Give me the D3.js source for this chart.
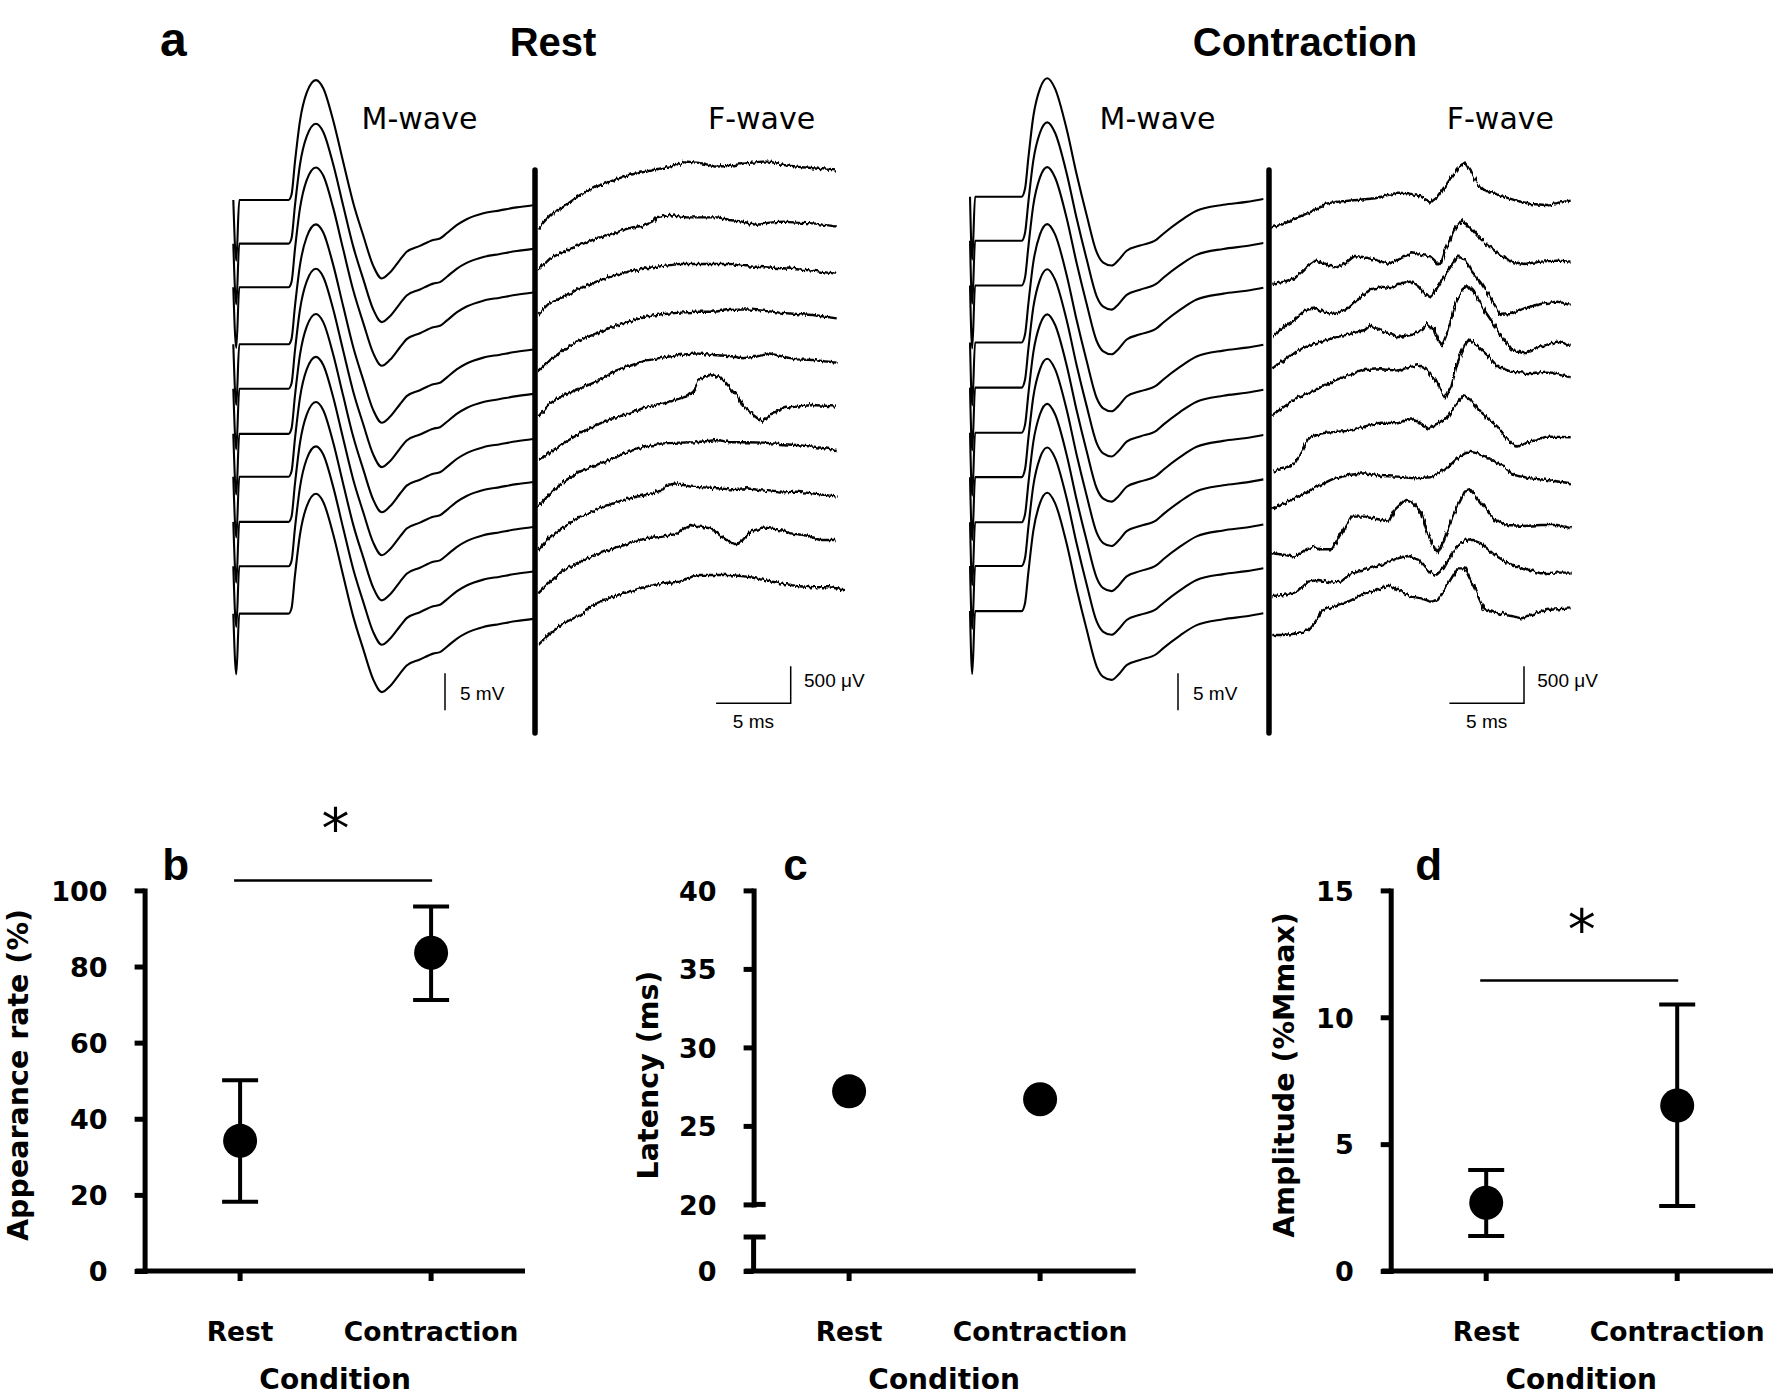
<!DOCTYPE html>
<html><head><meta charset="utf-8">
<script src="https://cdn.jsdelivr.net/npm/d3@7"></script>
<style>body{margin:0;background:#fff}</style>
</head><body>
<svg id="chart" width="1773" height="1399"></svg>
<script>
// ================= DATA =================
const conditions = ["Rest", "Contraction"];

// panel b : appearance rate (%)
const appearanceMean  = [34.2, 83.6];
const appearanceUpper = [50.1, 95.8];
const appearanceLower = [18.2, 71.2];
const appearanceTicks = [0, 20, 40, 60, 80, 100];

// panel c : latency (ms)
const latencyMean  = [27.2, 26.7];
const latencyTicks = [20, 25, 30, 35, 40];

// panel d : amplitude (%Mmax)
const amplitudeMean  = [2.69, 6.52];
const amplitudeUpper = [3.98, 10.5];
const amplitudeLower = [1.38, 2.56];
const amplitudeTicks = [0, 5, 10, 15];

// panel a : M-wave templates [ms, mV]
const mwaveRest = [[0,0],[0.2,-8.2],[0.4,0],[3.7,0],[3.9,0.7],[4.13,5.1],[4.47,10.7],[4.92,14.5],[5.54,16.2],[6.03,15.1],[6.7,10.7],[7.37,5.1],[8.04,-0.4],[8.71,-4.8],[9.38,-8.9],[9.95,-10.6],[10.5,-9.8],[11.17,-8.1],[11.62,-7.0],[12.51,-6.2],[13.4,-5.4],[13.85,-5.2],[14.3,-4.5],[14.97,-3.4],[15.64,-2.6],[16.76,-1.8],[17.87,-1.4],[18.99,-1.0],[20.1,-0.7]];
const mwaveContraction = [[0,0],[0.15,-8.5],[0.34,0],[3.46,0],[3.69,1.1],[3.91,5.2],[4.24,10.8],[4.69,14.6],[5.18,16.0],[5.7,14.6],[6.48,9.1],[7.15,3.0],[7.82,-2.5],[8.49,-7.5],[8.93,-8.9],[9.49,-9.3],[9.94,-8.6],[10.5,-7.3],[11.4,-6.6],[12.5,-5.8],[12.96,-5.0],[14.07,-3.3],[15.19,-1.9],[16.98,-1.1],[18.54,-0.7],[19.66,-0.3]];
// stacking offsets of the 10 sweeps (mV)
const mOffsetsRest = [0, -5.9, -11.8, -19.5, -25.5, -31.6, -37.4, -43.5, -49.5, -55.9];
const mOffsetsContraction = [0, -5.96, -12.0, -19.7, -25.8, -31.9, -37.9, -44.0, -49.9, -56.0];

// F-wave sweeps [ms, µV] and stacking offsets (µV)
const fOffsetsRest = [0, -563, -1170, -1936, -2543, -3128, -3758, -4343, -4928, -5625];
const fwaveRest = [
 [[20,0],[20.8,180],[21.7,292],[22.8,450],[23.9,562],[25.2,661],[26.1,720],[27.2,765],[28.3,810],[29.2,855],[30.0,900],[31.0,877],[31.9,832],[32.8,841],[33.9,877],[35.0,900],[35.5,900],[36.4,855],[37.3,832],[38.4,810],[40.0,778]],
 [[20,0],[20.8,158],[21.7,248],[22.8,338],[23.9,428],[25.0,495],[26.1,563],[27.2,608],[27.7,653],[27.9,711],[28.8,743],[29.9,711],[31.1,711],[32.0,711],[32.8,675],[33.7,653],[34.6,608],[35.5,639],[36.4,653],[37.3,639],[38.4,630],[40.0,585]],
 [[20,0],[20.8,158],[21.7,248],[22.8,360],[23.9,450],[25.0,527],[26.1,585],[27.2,630],[28.4,662],[29.5,689],[30.6,689],[31.7,689],[32.8,689],[33.7,662],[35.1,644],[36.4,630],[37.3,617],[38.4,599],[40.0,554]],
 [[20,0],[20.8,158],[21.7,293],[22.8,428],[23.9,518],[25.0,608],[26.1,675],[27.2,743],[28.4,779],[29.5,797],[30.6,810],[31.7,810],[32.8,833],[34.0,842],[35.1,824],[36.2,797],[37.3,779],[38.4,765],[40.0,720]],
 [[20,0],[20.8,180],[21.7,293],[22.8,383],[23.9,473],[25.0,608],[26.1,684],[27.2,756],[28.4,801],[29.5,833],[30.6,855],[31.7,833],[32.8,819],[33.7,788],[34.6,810],[35.5,855],[36.4,810],[37.3,774],[38.4,765],[40.0,729]],
 [[20,0],[21.7,225],[22.8,360],[23.9,473],[25.0,563],[26.1,630],[27.3,720],[28.4,765],[29.9,855],[30.4,922],[30.7,1080],[31.5,1148],[32.2,1121],[32.8,990],[33.4,855],[33.7,720],[34.4,608],[35.0,517],[35.6,620],[36.4,698],[37.3,720],[38.4,743],[40.0,720]],
 [[20,0],[20.8,180],[21.7,338],[22.8,473],[23.9,563],[25.0,653],[26.1,743],[27.2,810],[28.4,855],[29.5,864],[30.6,869],[32.0,900],[32.8,869],[34.0,869],[35.1,864],[36.2,846],[37.3,833],[38.4,810],[40.0,765]],
 [[20,0],[20.8,180],[21.7,315],[22.8,450],[23.9,540],[25.0,630],[26.1,698],[27.2,743],[28.4,810],[28.6,878],[29.3,900],[30.2,855],[31.1,846],[32.0,833],[32.8,819],[34.0,833],[35.1,801],[36.2,774],[37.3,788],[38.4,765],[40.0,720]],
 [[20,0],[20.8,158],[21.7,315],[22.8,428],[23.9,518],[25.0,608],[26.1,675],[27.2,743],[28.4,765],[29.3,810],[29.7,878],[30.2,923],[30.8,900],[31.5,878],[32.0,810],[32.6,720],[33.3,653],[33.7,720],[34.2,833],[35.1,891],[36.0,864],[36.9,810],[37.8,788],[38.9,720],[40.0,720]],
 [[20,0],[20.8,158],[21.7,293],[22.8,405],[23.9,563],[25.0,653],[26.1,720],[27.2,788],[28.4,833],[29.5,855],[30.6,945],[31.7,945],[32.8,945],[34.0,923],[35.1,878],[36.2,833],[37.3,797],[38.4,779],[39.5,779],[40.5,752]]
];
const fOffsetsContraction = [0, -765, -1467, -1904, -2534, -3299, -3794, -4401, -4977, -5504];
const fwaveContraction = [
 [[20,0],[20.6,32],[21.1,77],[21.7,135],[22.9,234],[23.5,315],[24.4,347],[25.7,369],[26.9,392],[27.8,437],[28.4,468],[29.1,459],[30.0,414],[30.6,333],[31.1,414],[31.8,617],[32.4,797],[32.9,873],[33.3,752],[33.8,572],[34.2,504],[35.1,437],[36.2,369],[37.3,315],[38.4,302],[40.0,360]],
 [[20,0],[20.8,32],[21.5,77],[22.2,212],[22.9,315],[23.5,279],[24.2,212],[24.9,279],[25.5,378],[26.2,360],[27.1,315],[27.8,270],[28.4,324],[29.3,414],[30.0,392],[30.6,369],[31.1,279],[31.3,270],[31.6,459],[32.2,729],[32.7,864],[33.1,797],[33.8,639],[34.4,527],[35.1,414],[36.0,302],[36.9,270],[38.0,302],[39.1,315],[40.0,302]],
 [[20,0],[20.8,126],[21.5,216],[22.2,351],[22.9,374],[23.5,315],[24.2,297],[25.1,374],[25.7,486],[26.6,630],[27.3,666],[28.0,644],[28.6,711],[29.3,734],[29.8,666],[30.2,567],[30.6,522],[31.1,666],[31.8,891],[32.4,1071],[32.9,1035],[33.3,891],[34.0,711],[34.7,486],[35.3,284],[36.0,297],[36.9,374],[38.0,432],[39.1,464],[40.0,419]],
 [[20,0],[20.8,113],[21.7,248],[22.9,338],[24.0,405],[25.3,473],[26.2,518],[26.6,585],[27.3,509],[28.4,419],[29.3,450],[30.0,518],[30.4,608],[30.8,540],[31.1,383],[31.4,315],[31.8,518],[32.2,833],[32.7,1058],[33.1,1125],[33.5,1035],[34.2,788],[35.1,518],[36.0,248],[36.9,203],[38.0,293],[39.1,360],[40.0,315]],
 [[20,0],[20.8,113],[21.7,239],[22.9,338],[24.0,450],[25.1,540],[26.2,608],[27.3,617],[28.4,599],[29.3,653],[29.8,675],[30.4,608],[31.0,450],[31.3,315],[31.6,225],[32.0,383],[32.4,698],[32.9,945],[33.2,1022],[33.8,923],[34.4,810],[35.1,653],[36.0,585],[37.3,563],[38.4,585],[40.0,509]],
 [[20,0],[20.8,45],[21.5,113],[22.0,293],[22.4,450],[23.3,518],[24.4,540],[25.3,554],[26.2,608],[27.3,662],[28.4,653],[29.3,720],[29.8,675],[30.4,585],[31.1,653],[31.8,743],[32.2,878],[32.8,1035],[33.3,968],[34.0,788],[35.1,608],[36.0,383],[36.4,338],[37.3,405],[38.4,473],[40.0,464]],
 [[20,0],[20.8,68],[21.7,158],[22.9,284],[24.0,392],[25.1,450],[26.2,473],[27.3,437],[28.4,428],[29.5,405],[30.6,419],[31.1,473],[31.8,563],[32.4,675],[33.1,765],[33.8,743],[34.7,653],[35.5,563],[36.2,450],[37.3,405],[38.4,383],[40.0,338]],
 [[20,0],[20.8,-23],[21.5,-45],[22.2,45],[22.9,90],[23.3,54],[24.0,54],[24.6,270],[25.3,495],[26.2,495],[27.1,459],[27.8,428],[28.2,585],[28.9,720],[29.5,675],[30.0,540],[30.4,270],[30.9,45],[31.1,0],[31.5,180],[32.2,540],[32.9,833],[33.3,855],[34.0,675],[34.9,450],[35.8,383],[36.9,369],[38.0,383],[39.1,383],[40.0,338]],
 [[20,0],[20.8,14],[21.7,59],[22.4,194],[23.1,216],[24.0,180],[24.6,194],[25.3,306],[26.2,351],[27.3,419],[28.4,509],[29.1,540],[29.8,486],[30.4,351],[31.0,284],[31.5,374],[32.2,621],[32.9,756],[33.3,765],[34.0,711],[34.9,554],[35.8,441],[36.9,374],[38.0,306],[39.1,315],[40.0,315]],
 [[20,0],[20.8,0],[21.7,23],[22.4,68],[22.9,180],[23.3,315],[24.0,383],[25.1,450],[26.2,563],[27.1,608],[27.8,675],[28.4,608],[29.3,518],[30.0,495],[30.6,450],[31.1,473],[31.8,698],[32.4,900],[32.9,900],[33.5,653],[34.2,338],[35.1,293],[36.2,248],[36.7,225],[37.3,270],[38.4,338],[40.0,360]]
];
const scaleBarMV = 5, scaleBarUV = 500, scaleBarMS = 5;

// ================= DRAWING =================
const W = 1773, H = 1399;
const BOLD = "'DejaVu Sans', Verdana, sans-serif";
const ARIAL = "'Liberation Sans', Arial, sans-serif";
const svg = d3.select("#chart");
svg.append("rect").attr("width", W).attr("height", H).attr("fill", "#fff");

const defs = svg.append("defs");
const flt = defs.append("filter").attr("id", "jitter").attr("filterUnits", "userSpaceOnUse")
  .attr("x", 0).attr("y", 0).attr("width", W).attr("height", 800);
flt.append("feTurbulence").attr("type", "fractalNoise").attr("baseFrequency", "0.45 0.05")
  .attr("numOctaves", 2).attr("seed", 7).attr("result", "noise");
flt.append("feDisplacementMap").attr("in", "SourceGraphic").attr("in2", "noise")
  .attr("scale", 5).attr("xChannelSelector", "R").attr("yChannelSelector", "G");

function txt(g, s, x, y, size, family, weight, anchor) {
  return g.append("text").text(s).attr("x", x).attr("y", y).attr("font-size", size)
    .attr("font-family", family).attr("font-weight", weight || "normal")
    .attr("text-anchor", anchor || "start").attr("fill", "#000");
}

// ---------- panel a ----------
function tracePanel(p) {
  const g = svg.append("g");
  const mX = d3.scaleLinear().domain([0, 20]).range([p.mx0, p.mx0 + 298.4]);
  const mY = d3.scaleLinear().domain([0, -60]).range([p.my0, p.my0 + 60 * 7.4]);
  const fX = d3.scaleLinear().domain([20, 40]).range([p.fx0, p.fx0 + 298.4]);
  const fY = d3.scaleLinear().domain([0, -6000]).range([p.fy0, p.fy0 + 6000 / 13.5]);

  const lineM = d3.line().x(d => mX(d[0])).y(d => mY(d[1])).curve(d3.curveMonotoneX);
  p.mOffsets.forEach(off => {
    g.append("path").attr("d", lineM(p.mTemplate.map(([t, v]) => [t, off + v])))
      .attr("fill", "none").attr("stroke", "#000").attr("stroke-width", 2.1);
  });
  const gF = g.append("g").attr("filter", "url(#jitter)");
  const lineF = d3.line().x(d => fX(d[0])).y(d => fY(d[1]));
  p.fTraces.forEach((tr, i) => {
    gF.append("path").attr("d", lineF(tr.map(([t, v]) => [t, p.fOffsets[i] + v])))
      .attr("fill", "none").attr("stroke", "#000").attr("stroke-width", 2.4)
      .attr("stroke-linejoin", "round");
  });
  // separating thick bar
  g.append("line").attr("x1", p.bar).attr("x2", p.bar).attr("y1", 170).attr("y2", 733)
    .attr("stroke", "#000").attr("stroke-width", 5.5).attr("stroke-linecap", "round");
  // M scale bar
  const mLen = Math.abs(mY(-scaleBarMV) - mY(0));
  g.append("line").attr("x1", p.mBarX).attr("x2", p.mBarX).attr("y1", 673.3).attr("y2", 673.3 + mLen)
    .attr("stroke", "#000").attr("stroke-width", 1.5);
  txt(g, scaleBarMV + " mV", p.mBarX + 15, 700, 19, ARIAL);
  // F scale bars
  const fLen = Math.abs(fY(-scaleBarUV) - fY(0));
  const hLen = fX(20 + scaleBarMS) - fX(20);
  const yB = 703.3;
  g.append("path").attr("d", `M${p.fBarX - hLen},${yB}H${p.fBarX}V${yB - fLen}`)
    .attr("fill", "none").attr("stroke", "#000").attr("stroke-width", 1.5);
  txt(g, scaleBarUV + " μV", p.fBarX + 13.3, 686.7, 19, ARIAL);
  txt(g, scaleBarMS + " ms", p.fBarX - hLen / 2, 728.3, 19, ARIAL, "normal", "middle");
  // labels
  txt(g, "M-wave", p.mLabel, 129.4, 30, BOLD, "normal", "middle");
  txt(g, "F-wave", p.fLabel, 129.4, 30, BOLD, "normal", "middle");
  txt(g, p.title, p.titleX, 56, 40, ARIAL, "bold", "middle");
}
tracePanel({mx0: 233.3, my0: 200, fx0: 538.3, fy0: 228.3, bar: 535, mBarX: 445, fBarX: 790.7,
  mTemplate: mwaveRest, mOffsets: mOffsetsRest, fTraces: fwaveRest, fOffsets: fOffsetsRest,
  mLabel: 419.5, fLabel: 761.5, title: "Rest", titleX: 553});
tracePanel({mx0: 970, my0: 196.7, fx0: 1272.3, fy0: 227.3, bar: 1269, mBarX: 1178, fBarX: 1524,
  mTemplate: mwaveContraction, mOffsets: mOffsetsContraction, fTraces: fwaveContraction, fOffsets: fOffsetsContraction,
  mLabel: 1157.5, fLabel: 1500.4, title: "Contraction", titleX: 1305});
txt(svg, "a", 160, 56, 48, ARIAL, "bold");

// ---------- panels b, c, d ----------
const Y0 = 1271, YTOP = 890.4;
function dotPanel(p) {
  const g = svg.append("g");
  const x = d3.scalePoint().domain(conditions).range([p.axisX + 95.5, p.axisX + 286.5]);
  const y = p.y;
  const styleAxis = a => {
    a.select(".domain").attr("stroke", "#000").attr("stroke-width", 5).attr("stroke-linecap", "square");
    a.selectAll(".tick line").attr("stroke", "#000").attr("stroke-width", 5);
    a.selectAll(".tick text").attr("font-family", BOLD).attr("font-weight", "bold")
      .attr("font-size", 27).attr("fill", "#000").attr("dy", "0.36em");
  };
  const mkAxis = sc => d3.axisLeft(sc).tickSize(10).tickSizeOuter(0).tickPadding(27);
  if (!p.broken) {
    const a = g.append("g").attr("transform", `translate(${p.axisX},0)`).call(mkAxis(y).tickValues(p.ticks));
    styleAxis(a);
  } else {
    const yUp = d3.scaleLinear().domain([20, 40]).range([y(20), y(40)]);
    const a = g.append("g").attr("transform", `translate(${p.axisX},0)`).call(mkAxis(yUp).tickValues(p.ticks));
    styleAxis(a);
    const a0 = g.append("g").attr("transform", `translate(${p.axisX},0)`).call(mkAxis(y).tickValues([0]));
    a0.select(".domain").remove();
    styleAxis(a0);
    // axis break caps
    g.append("line").attr("x1", p.axisX).attr("x2", p.axisX + 12).attr("y1", y(20)).attr("y2", y(20))
      .attr("stroke", "#000").attr("stroke-width", 5);
    const yb = y(0) - 34;
    g.append("line").attr("x1", p.axisX).attr("x2", p.axisX).attr("y1", yb).attr("y2", y(0))
      .attr("stroke", "#000").attr("stroke-width", 5);
    g.append("line").attr("x1", p.axisX - 10).attr("x2", p.axisX + 12).attr("y1", yb).attr("y2", yb)
      .attr("stroke", "#000").attr("stroke-width", 5);
  }
  // x axis
  g.append("line").attr("x1", p.axisX - 9).attr("x2", p.xEnd).attr("y1", y(0)).attr("y2", y(0))
    .attr("stroke", "#000").attr("stroke-width", 5);
  conditions.forEach(c => {
    g.append("line").attr("x1", x(c)).attr("x2", x(c)).attr("y1", y(0)).attr("y2", y(0) + 10)
      .attr("stroke", "#000").attr("stroke-width", 5);
    txt(g, c, x(c), 1341, 26.5, BOLD, "bold", "middle");
  });
  txt(g, "Condition", p.axisX + 190.5, 1389, 28, BOLD, "bold", "middle");
  // y title
  g.append("text").text(p.yTitle).attr("transform", `translate(${p.titleX},1075) rotate(-90)`)
    .attr("text-anchor", "middle").attr("dy", "0.35em").attr("font-size", 28.5)
    .attr("font-family", BOLD).attr("font-weight", "bold").attr("fill", "#000");
  // panel letter
  txt(g, p.letter, p.axisX + p.letterDx, 880, 44, ARIAL, "bold", "middle");
  // error bars
  if (p.upper) {
    conditions.forEach((c, i) => {
      const cx = x(c);
      g.append("path").attr("d", `M${cx},${y(p.upper[i])}V${y(p.lower[i])}M${cx - 18},${y(p.upper[i])}H${cx + 18}M${cx - 18},${y(p.lower[i])}H${cx + 18}`)
        .attr("stroke", "#000").attr("stroke-width", 4).attr("fill", "none");
    });
  }
  // points
  g.selectAll("circle.pt").data(p.mean).join("circle").attr("class", "pt")
    .attr("cx", (d, i) => x(conditions[i])).attr("cy", d => y(d)).attr("r", 17).attr("fill", "#000");
  // significance
  if (p.sig) {
    g.append("line").attr("x1", x(conditions[0]) - 6).attr("x2", x(conditions[1]) + 1)
      .attr("y1", y(p.sig[0])).attr("y2", y(p.sig[0])).attr("stroke", "#000").attr("stroke-width", 2.5);
    const st = txt(g, "*", 0, 0, 56, BOLD, "normal", "start");
    const bb = st.node().getBBox();
    const cx = (x(conditions[0]) + x(conditions[1])) / 2, cy = y(p.sig[1]);
    st.attr("x", cx - bb.width / 2 - bb.x).attr("y", cy - (bb.y + bb.height * 0.36));
  }
}
dotPanel({axisX: 144.6, y: d3.scaleLinear().domain([0, 100]).range([Y0, YTOP]), ticks: appearanceTicks,
  mean: appearanceMean, upper: appearanceUpper, lower: appearanceLower, xEnd: 525,
  yTitle: "Appearance rate (%)", titleX: 18, letter: "b", letterDx: 31, sig: [102.6, 118.6]});
dotPanel({axisX: 753.6, y: d3.scaleLinear().domain([0, 20, 40]).range([Y0, 1204.4, YTOP]), ticks: latencyTicks,
  broken: true, mean: latencyMean, xEnd: 1135.7,
  yTitle: "Latency (ms)", titleX: 648, letter: "c", letterDx: 42});
dotPanel({axisX: 1390.7, y: d3.scaleLinear().domain([0, 15]).range([Y0, YTOP]), ticks: amplitudeTicks,
  mean: amplitudeMean, upper: amplitudeUpper, lower: amplitudeLower, xEnd: 1773,
  yTitle: "Amplitude (%Mmax)", titleX: 1284, letter: "d", letterDx: 38, sig: [11.45, 13.83]});
</script>
</body></html>
